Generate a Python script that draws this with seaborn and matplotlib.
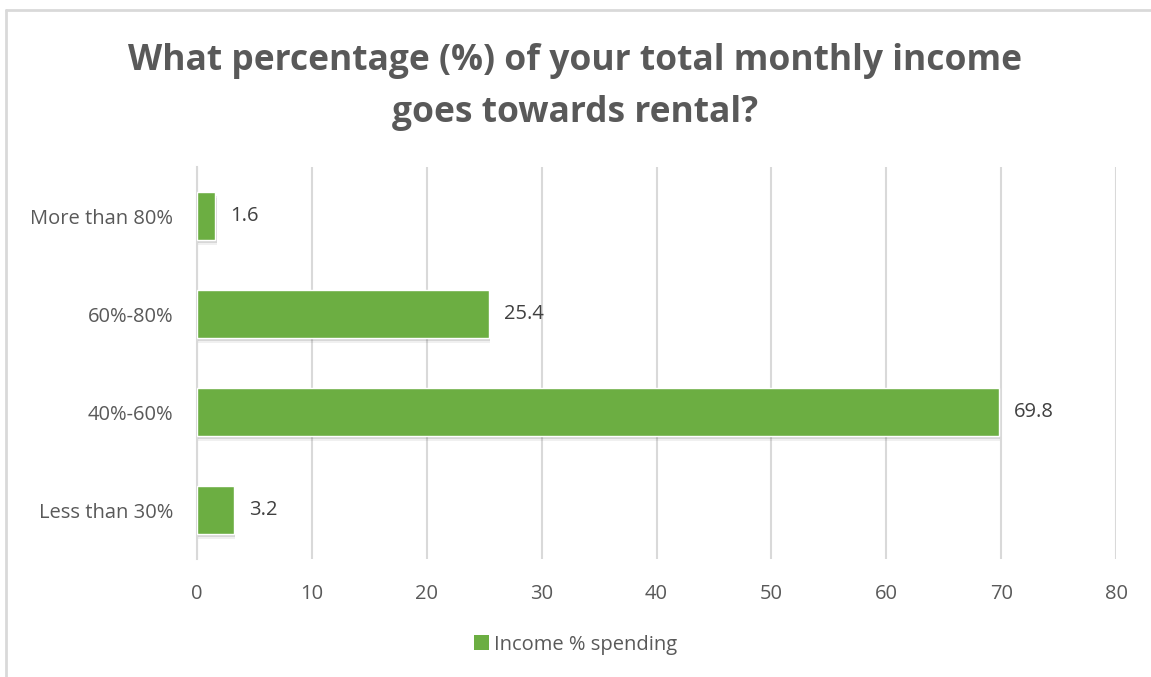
# %%
# === Load modules ===
import pandas as pd
import seaborn as sns
import matplotlib.pyplot as plt
import matplotlib.patheffects as pe
from matplotlib.lines import Line2D
from matplotlib.patches import Patch

# %%
# === Data ===
categories = ['More than 80%', '60%-80%', '40%-60%', 'Less than 30%']
values     = [1.6, 25.4, 69.8, 3.2]
x_ticks    = [0, 10, 20, 30, 40, 50, 60, 70, 80]
title      = 'What percentage (%) of your total monthly income\ngoes towards rental?'
series     = 'Income % spending'

GREEN = '#6CAE42'
GRAY  = '#595959'
GRID  = '#D9D9D9'
FS    = 14.5

df = pd.DataFrame({'category': categories, 'value': values})

# %%
# === Plot ===
sns.set_theme(style='white')
plt.rcParams['font.family'] = ['Open Sans', 'DejaVu Sans']

fig = plt.figure(figsize=(11.51, 6.77), dpi=100)
ax = fig.add_axes([0.1712, 0.1743, 0.7984, 0.579])

sns.barplot(data=df, y='category', x='value', orient='h', color=GREEN,
            width=0.48, saturation=1, ax=ax, zorder=3)

# soft shadow like the office chart
for bar in ax.patches:
    bar.set_path_effects([pe.SimplePatchShadow(offset=(1, -4), shadow_rgbFace='#000000', alpha=0.06),
                          pe.SimplePatchShadow(offset=(1, -2.5), shadow_rgbFace='#000000', alpha=0.1),
                          pe.Normal()])

for bar, v in zip(ax.patches, values):
    ax.text(bar.get_width() + 1.3, bar.get_y() + bar.get_height() / 2, f'{v}',
            va='center', ha='left', fontsize=FS, color='#404040')

ax.set_xlim(0, 80)
ax.set_xticks(x_ticks)
ax.set_xticklabels([str(t) for t in x_ticks])
ax.set_ylim(3.5, -0.5)
ax.xaxis.grid(True, color=GRID, linewidth=1.5, zorder=0)
ax.yaxis.grid(False)
for s in ['top', 'right', 'bottom']:
    ax.spines[s].set_visible(False)
ax.spines['left'].set_color(GRID)
ax.spines['left'].set_linewidth(1.5)
ax.tick_params(axis='y', length=0, labelsize=FS, labelcolor=GRAY, pad=17)
ax.tick_params(axis='x', length=0, labelsize=FS, labelcolor=GRAY, pad=18)
ax.set_xlabel('')
ax.set_ylabel('')

fig.text(0.5, 0.872, title, ha='center', va='center', fontsize=25.5,
         fontweight='bold', color=GRAY, linespacing=1.6)

fig.legend(handles=[Patch(facecolor=GREEN, edgecolor='none')], labels=[series],
           loc='center', bbox_to_anchor=(0.5, 0.048), frameon=False,
           fontsize=FS, labelcolor=GRAY, handlelength=0.75, handleheight=0.75,
           handletextpad=0.25)

# chart border (top and left visible in the screenshot)
fig.add_artist(Line2D([6 / 1151, 1], [1 - 10 / 677, 1 - 10 / 677], color=GRID, lw=2,
                      transform=fig.transFigure))
fig.add_artist(Line2D([6 / 1151, 6 / 1151], [0, 1 - 10 / 677], color=GRID, lw=2,
                      transform=fig.transFigure))

plt.savefig('out.png', dpi=100)
